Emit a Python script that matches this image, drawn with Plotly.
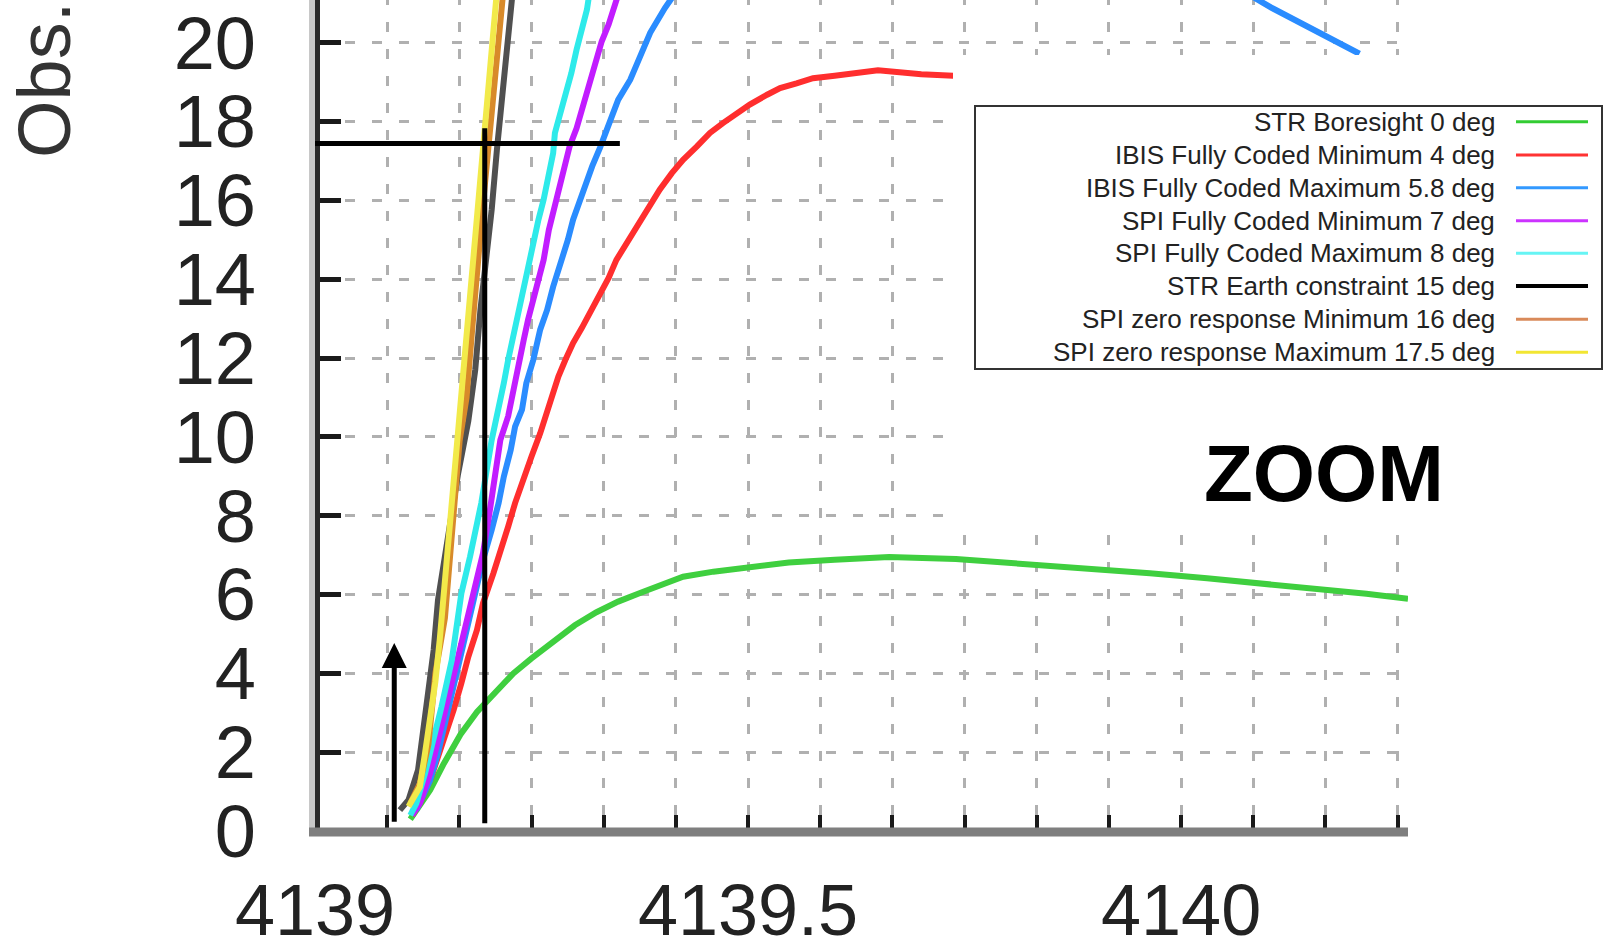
import plotly.graph_objects as go

FONT = "Liberation Sans"

# ---------------- data ----------------
series_names = [
    "STR Boresight 0 deg",
    "IBIS Fully Coded Minimum 4 deg",
    "IBIS Fully Coded Maximum 5.8 deg",
    "SPI Fully Coded Minimum 7 deg",
    "SPI Fully Coded Maximum 8 deg",
    "STR Earth constraint 15 deg",
    "SPI zero response Minimum 16 deg",
    "SPI zero response Maximum 17.5 deg",
]

str0_x = [4139.110, 4139.133, 4139.148, 4139.168, 4139.187, 4139.208, 4139.229, 4139.250,
          4139.277, 4139.300, 4139.325, 4139.350, 4139.379, 4139.398, 4139.425, 4139.460,
          4139.497, 4139.547, 4139.600, 4139.663, 4139.740, 4139.800, 4139.889, 4139.964,
          4140.030, 4140.091, 4140.152, 4140.214, 4140.262]
str0_y = [0.30, 1.04, 1.68, 2.45, 3.02, 3.49, 4.00, 4.38,
          4.85, 5.22, 5.55, 5.82, 6.07, 6.22, 6.45, 6.58,
          6.68, 6.81, 6.88, 6.95, 6.90, 6.81, 6.68, 6.54,
          6.41, 6.29, 6.16, 6.02, 5.89]

ibis_min_x = [4139.112, 4139.121, 4139.133, 4139.141, 4139.148, 4139.160, 4139.169, 4139.177,
              4139.187, 4139.194, 4139.206, 4139.214, 4139.223, 4139.231, 4139.241, 4139.250,
              4139.260, 4139.272, 4139.281, 4139.289, 4139.298, 4139.308, 4139.318, 4139.329,
              4139.339, 4139.348, 4139.360, 4139.371, 4139.387, 4139.398, 4139.412, 4139.425,
              4139.441, 4139.456, 4139.471, 4139.487, 4139.502, 4139.522, 4139.537, 4139.556,
              4139.575, 4139.600, 4139.650, 4139.700, 4139.737]
ibis_min_y = [0.40, 0.70, 1.29, 1.80, 2.31, 3.07, 3.75, 4.42,
              5.10, 5.78, 6.54, 7.05, 7.72, 8.32, 8.99, 9.50,
              10.09, 10.94, 11.53, 11.95, 12.38, 12.76, 13.18, 13.56,
              14.03, 14.49, 14.92, 15.34, 15.93, 16.27, 16.69, 17.03,
              17.37, 17.71, 17.96, 18.22, 18.43, 18.68, 18.85, 18.97,
              19.10, 19.16, 19.30, 19.20, 19.16]

ibis_max_x = [4139.117, 4139.133, 4139.142, 4139.150, 4139.158, 4139.165, 4139.173, 4139.179,
              4139.187, 4139.194, 4139.204, 4139.212, 4139.218, 4139.226, 4139.231, 4139.239,
              4139.244, 4139.252, 4139.260, 4139.268, 4139.275, 4139.285, 4139.292, 4139.298,
              4139.306, 4139.312, 4139.320, 4139.329, 4139.339, 4139.350, 4139.364, 4139.375,
              4139.387, 4139.404, 4139.430, 4139.750, 4140.080, 4140.105, 4140.131, 4140.152,
              4140.182, 4140.206]
ibis_max_y = [0.53, 1.29, 1.97, 2.73, 3.41, 4.17, 4.85, 5.53,
              6.20, 6.88, 7.64, 8.32, 8.99, 9.67, 10.26, 10.69,
              11.36, 11.95, 12.72, 13.22, 13.81, 14.49, 15.00, 15.51,
              16.02, 16.44, 16.86, 17.33, 17.92, 18.55, 19.06, 19.65,
              20.25, 20.88, 21.70, 24.00, 21.20, 20.88, 20.58, 20.33,
              20.00, 19.72]

spi_min_x = [4139.112, 4139.121, 4139.133, 4139.144, 4139.152, 4139.163, 4139.173, 4139.187,
             4139.194, 4139.202, 4139.208, 4139.214, 4139.223, 4139.229, 4139.235, 4139.241,
             4139.246, 4139.252, 4139.258, 4139.264, 4139.270, 4139.277, 4139.283, 4139.289,
             4139.294, 4139.302, 4139.308, 4139.314, 4139.320, 4139.325, 4139.331, 4139.339,
             4139.344, 4139.360]
spi_min_y = [0.40, 0.70, 1.47, 2.48, 3.15, 4.17, 5.19, 6.37,
             7.05, 8.15, 8.99, 9.92, 10.52, 11.11, 11.78, 12.46,
             12.97, 13.48, 13.98, 14.49, 15.25, 15.85, 16.35, 16.90,
             17.37, 17.83, 18.30, 18.81, 19.23, 19.65, 20.03, 20.46,
             20.80, 21.90]

spi_max_x = [4139.110, 4139.117, 4139.127, 4139.137, 4139.146, 4139.158, 4139.163, 4139.169,
             4139.179, 4139.185, 4139.192, 4139.204, 4139.212, 4139.218, 4139.223, 4139.229,
             4139.235, 4139.241, 4139.246, 4139.252, 4139.258, 4139.264, 4139.270, 4139.275,
             4139.277, 4139.283, 4139.289, 4139.296, 4139.302, 4139.308, 4139.314, 4139.322]
spi_max_y = [0.40, 0.70, 1.46, 2.31, 3.15, 4.34, 5.19, 6.03,
             6.96, 7.64, 8.32, 9.92, 10.69, 11.36, 11.95, 12.55,
             13.14, 13.81, 14.41, 14.92, 15.51, 16.02, 16.61, 17.20,
             17.71, 18.17, 18.64, 19.23, 19.82, 20.33, 20.84, 22.00]

str_earth_x = [4139.098, 4139.108, 4139.119, 4139.127, 4139.137, 4139.142, 4139.152, 4139.165,
               4139.177, 4139.185, 4139.191, 4139.204, 4139.210, 4139.216, 4139.221, 4139.227,
               4139.231]
str_earth_y = [0.53, 0.79, 1.55, 2.82, 4.59, 5.86, 7.26, 9.04,
               10.40, 11.70, 13.22, 15.76, 17.28, 18.55, 19.70, 20.88,
               21.90]

spi_zero_min_x = [4139.110, 4139.121, 4139.131, 4139.139, 4139.150, 4139.156, 4139.161, 4139.167,
                  4139.175, 4139.181, 4139.187, 4139.194, 4139.200, 4139.206, 4139.212, 4139.216,
                  4139.220]
spi_zero_min_y = [0.70, 1.20, 2.20, 4.00, 5.40, 6.80, 8.30, 9.90,
                  11.00, 12.60, 14.30, 15.90, 17.30, 18.60, 20.00, 20.90,
                  21.90]

spi_zero_max_x = [4139.108, 4139.121, 4139.127, 4139.133, 4139.139, 4139.144, 4139.150, 4139.156,
                  4139.162, 4139.169, 4139.175, 4139.182, 4139.189, 4139.194, 4139.200, 4139.206,
                  4139.212]
spi_zero_max_y = [0.62, 1.12, 1.97, 2.86, 3.79, 4.85, 6.33, 7.89,
                  9.63, 11.15, 12.72, 14.37, 15.97, 17.41, 18.93, 20.27,
                  21.80]

# reference marks drawn on the chart
marker_line_x = 4139.196        # vertical black line
marker_line_y0 = 0.20
marker_line_y1 = 17.83
level_line_y = 17.44            # horizontal black line
level_line_x0 = 4139.0
level_line_x1 = 4139.352
arrow_x = 4139.0915             # upward arrow
arrow_y0 = 0.20
arrow_y1 = 4.77

# axes / ticks
x_range = [4139.0, 4140.262]
y_range = [-0.025, 21.083]
x_tick_vals = [4139.0, 4139.08333, 4139.16667, 4139.25, 4139.33333, 4139.41667,
               4139.5, 4139.58333, 4139.66667, 4139.75, 4139.83333, 4139.91667,
               4140.0, 4140.08333, 4140.16667, 4140.25]
x_tick_text = ["4139", "", "", "", "", "", "4139.5", "", "", "", "", "",
               "4140", "", "", ""]
y_tick_vals = [0, 2, 4, 6, 8, 10, 12, 14, 16, 18, 20]
y_tick_text = ["0", "2", "4", "6", "8", "10", "12", "14", "16", "18", "20"]
y_title = "Obs."
zoom_label = "ZOOM"

# ---------------- styles ----------------
series_x = [str0_x, ibis_min_x, ibis_max_x, spi_min_x, spi_max_x, str_earth_x, spi_zero_min_x, spi_zero_max_x]
series_y = [str0_y, ibis_min_y, ibis_max_y, spi_min_y, spi_max_y, str_earth_y, spi_zero_min_y, spi_zero_max_y]
trace_colors = ["#3fcf3f", "#ff2e2e", "#2a8cff", "#c21cff", "#2eeaea", "#505050", "#d88a2a", "#f2ea4a"]
legend_colors = ["#33cc33", "#ff3333", "#3399ff", "#cc33ff", "#66f4f4", "#000000", "#d98a5a", "#f2e633"]
legend_widths = [3, 3, 3, 3, 3, 4, 3, 3]

W, H = 1608, 950
ML, MR, MT, MB = 315, 200, 0, 118
PW = W - ML - MR
PH = H - MT - MB


def px(xpix):
    return (xpix - ML) / PW


def py(ypix):
    return (H - MB - ypix) / PH


fig = go.Figure()
for name, xs, ys, col in zip(series_names, series_x, series_y, trace_colors):
    fig.add_trace(go.Scatter(x=xs, y=ys, mode="lines", name=name,
                             line=dict(color=col, width=6), showlegend=False))

shapes = []
# left axis (light halo + dark line)
shapes.append(dict(type="line", xref="paper", yref="paper", x0=px(312), x1=px(312), y0=0, y1=1,
                   line=dict(color="#c8c8c8", width=6), layer="above"))
shapes.append(dict(type="line", xref="paper", yref="paper", x0=px(317.5), x1=px(317.5), y0=0, y1=1,
                   line=dict(color="#2a2a2a", width=5), layer="above"))
# bottom axis
shapes.append(dict(type="line", xref="paper", yref="paper", x0=px(309), x1=1, y0=0, y1=0,
                   line=dict(color="#7f7f7f", width=9), layer="above"))
# white panel behind legend / label
shapes.append(dict(type="rect", xref="paper", yref="paper", x0=px(953), x1=px(1608), y0=py(535), y1=py(55),
                   fillcolor="white", line=dict(width=0), layer="above"))
# legend box
shapes.append(dict(type="rect", xref="paper", yref="paper", x0=px(975), x1=px(1602), y0=py(369), y1=py(106),
                   fillcolor="white", line=dict(color="#333333", width=2), layer="above"))
# reference lines
shapes.append(dict(type="line", xref="x", yref="y", x0=marker_line_x, x1=marker_line_x,
                   y0=marker_line_y0, y1=marker_line_y1, line=dict(color="black", width=5), layer="above"))
shapes.append(dict(type="line", xref="x", yref="y", x0=level_line_x0, x1=level_line_x1,
                   y0=level_line_y, y1=level_line_y, line=dict(color="black", width=5), layer="above"))

annotations = []
legend_y_pix = [121.7, 155.0, 187.7, 220.7, 253.3, 286.0, 319.3, 352.3]
for name, lc, lw, ypix in zip(series_names, legend_colors, legend_widths, legend_y_pix):
    shapes.append(dict(type="line", xref="paper", yref="paper", x0=px(1516), x1=px(1588),
                       y0=py(ypix), y1=py(ypix), line=dict(color=lc, width=lw), layer="above"))
    annotations.append(dict(xref="paper", yref="paper", x=px(1497), y=py(ypix), text=name,
                            showarrow=False, xanchor="right", yanchor="middle",
                            font=dict(family=FONT, size=26, color="#222222")))

annotations.append(dict(xref="paper", yref="paper", x=px(1324), y=py(473), text="<b>%s</b>" % zoom_label,
                        showarrow=False, xanchor="center", yanchor="middle",
                        font=dict(family=FONT, size=80, color="black")))
annotations.append(dict(xref="paper", yref="paper", x=px(44), y=py(80), text=y_title, textangle=-90,
                        showarrow=False, xanchor="center", yanchor="middle",
                        font=dict(family=FONT, size=74, color="#333333")))
annotations.append(dict(x=arrow_x, y=arrow_y1, ax=arrow_x, ay=arrow_y0, xref="x", yref="y",
                        axref="x", ayref="y", text="", showarrow=True, arrowhead=2,
                        arrowsize=1.0, arrowwidth=5, arrowcolor="black"))

fig.update_layout(
    width=W, height=H,
    margin=dict(l=ML, r=MR, t=MT, b=MB, autoexpand=False),
    paper_bgcolor="white", plot_bgcolor="white",
    showlegend=False,
    shapes=shapes, annotations=annotations,
    xaxis=dict(range=x_range, tickmode="array", tickvals=x_tick_vals, ticktext=x_tick_text,
               ticks="inside", ticklen=17, tickwidth=4, tickcolor="#1a1a1a",
               showgrid=True, gridcolor="#b0b0b0", gridwidth=3, griddash="5px,17px,5px,0px",
               showline=False, zeroline=False, ticklabelstandoff=30, automargin=False,
               tickfont=dict(family=FONT, size=72, color="#222222")),
    yaxis=dict(range=y_range, tickmode="array", tickvals=y_tick_vals, ticktext=y_tick_text,
               ticks="inside", ticklen=26, tickwidth=5, tickcolor="#1a1a1a",
               showgrid=True, gridcolor="#b0b0b0", gridwidth=3, griddash="0px,3.5px,10px,13.2px",
               showline=False, zeroline=False, ticklabelstandoff=58, automargin=False,
               tickfont=dict(family=FONT, size=74, color="#222222")),
)

fig.write_html("out.html")
